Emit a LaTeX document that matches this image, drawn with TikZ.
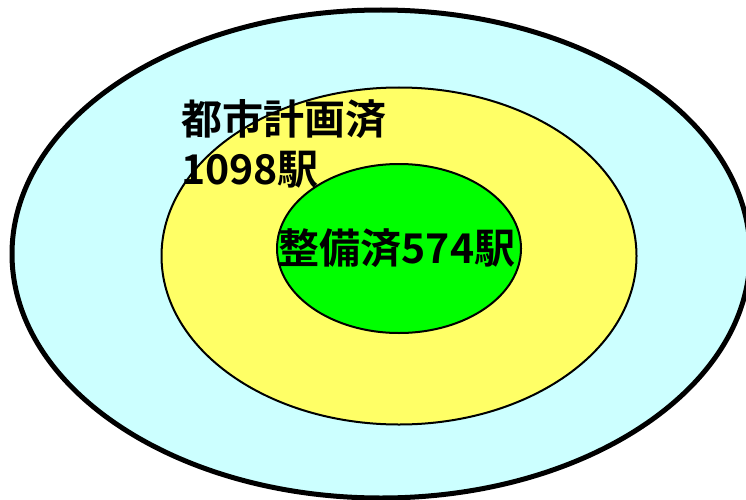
\documentclass[tikz,border=0pt]{standalone}
\usepackage{fontspec}
\setmainfont{Noto Sans CJK JP}[BoldFont={Noto Sans CJK JP Bold}]
\usetikzlibrary{shapes.geometric}
\definecolor{outerfill}{HTML}{CCFFFF}
\definecolor{midfill}{HTML}{FFFF66}
\definecolor{innerfill}{HTML}{00FF00}
\tikzset{
  ring/.style={ellipse, draw=black, inner sep=0pt, outer sep=0pt},
  lbl/.style={font=\fontsize{41}{50}\selectfont\bfseries, inner sep=0pt, align=left}
}
\begin{document}
\begin{tikzpicture}[x=1pt,y=-1pt]
\useasboundingbox (0,0) rectangle (746,500);
\clip (0,0) rectangle (746,500);
\node[ring, fill=outerfill, line width=5pt, minimum width=738pt, minimum height=488pt] (outer) at (381,254) {};
\node[ring, fill=midfill, line width=2pt, minimum width=475pt, minimum height=337pt] (mid) at (399,256) {};
\node[ring, fill=innerfill, line width=2pt, minimum width=244pt, minimum height=169pt] (inner) at (399,248.5) {};
\node[lbl, anchor=base west] (plan) at (181,184) {都市計画済\\1098駅};
\node[lbl, anchor=base] (done) at (397,263) {整備済574駅};
\end{tikzpicture}
\end{document}
